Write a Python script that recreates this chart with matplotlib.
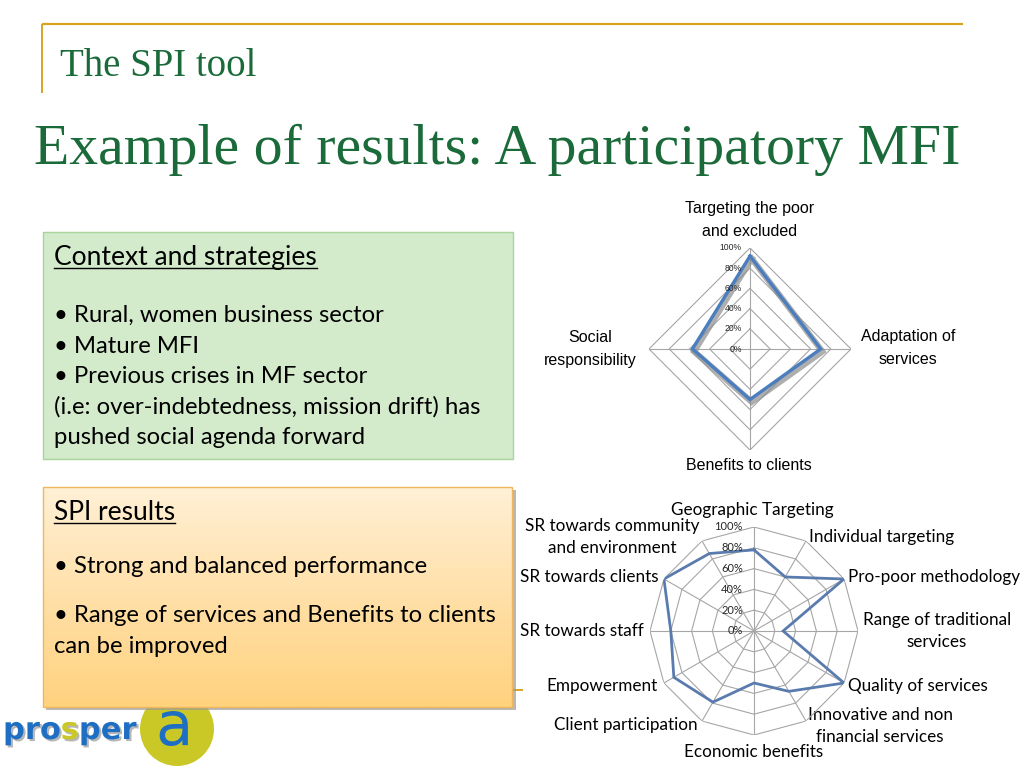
import numpy as np
import matplotlib
matplotlib.use('Agg')
import matplotlib.pyplot as plt
from matplotlib.patches import Rectangle, Circle
from matplotlib.colors import LinearSegmentedColormap
import matplotlib.patheffects as pe

# ---------------- data ----------------
dims1 = ["Targeting the poor\nand excluded", "Adaptation of\nservices",
         "Benefits to clients", "Social\nresponsibility"]
vals1 = [92, 70, 50, 57]

dims2 = ["Geographic Targeting", "Individual targeting", "Pro-poor methodology",
         "Range of traditional\nservices", "Quality of services",
         "Innovative and non\nfinancial services", "Economic benefits",
         "Client participation", "Empowerment", "SR towards staff",
         "SR towards clients", "SR towards community\nand environment"]
vals2 = [78, 60, 100, 28, 100, 67, 50, 79, 89, 80, 100, 86]

ticks = [0, 20, 40, 60, 80, 100]
tick_labels = ["0%", "20%", "40%", "60%", "80%", "100%"]

context_title = "Context and strategies"
context_lines = ["\u2022 Rural, women business sector", "\u2022 Mature MFI",
                 "\u2022 Previous crises in MF sector",
                 "(i.e: over-indebtedness, mission drift) has",
                 "pushed social agenda forward"]
results_title = "SPI results"
results_lines = ["\u2022 Strong and balanced performance",
                 "\u2022 Range of services and Benefits to clients",
                 "can be improved"]

# ---------------- layout (pixel anchors) ----------------
lab1_pos = [(750, 209, 'center'), (908, 337, 'center'), (749, 465, 'center'), (590, 337, 'center')]
lab2_pos = [(752, 510, 'center'), (809, 537, 'left'), (848, 577, 'left'), (937, 620, 'center'),
            (848, 686, 'left'), (880, 715, 'center'), (754, 752, 'center'), (698, 725, 'right'),
            (658, 686, 'right'), (644, 631, 'right'), (658, 577, 'right'), (612, 526, 'center')]
context_y = [322, 353, 383, 414, 444]
results_y = [573, 622, 653]

GREEN = '#1B6B3A'
GOLD = '#D6A51F'
BODY = 'Lato'

W, H = 1024, 768
fig = plt.figure(figsize=(W / 100, H / 100), dpi=100)
fig.patch.set_facecolor('white')
bg = fig.add_axes([0, 0, 1, 1])
bg.set_xlim(0, W)
bg.set_ylim(H, 0)
bg.axis('off')

# header lines
bg.plot([42, 963], [24, 24], color=GOLD, lw=1.6, solid_capstyle='butt')
bg.plot([42, 42], [24, 93], color=GOLD, lw=1.4, solid_capstyle='butt')
bg.text(60, 76, "The SPI tool", family='Liberation Serif', fontsize=28, color=GREEN, va='baseline')
bg.text(34, 164, "Example of results: A participatory MFI", family='Liberation Serif',
        fontsize=41.6, color=GREEN, va='baseline')

# logo circle (behind box)
bg.add_patch(Circle((177, 729), 37, fc='#C9C826', ec='none', zorder=1))

# green box
bg.add_patch(Rectangle((43, 232), 470, 227, fc='#D3EACB', ec='#A9D49A', lw=1, zorder=2))

# orange box with shadow and gradient
bg.plot([512, 522], [690, 690], color=GOLD, lw=1.4, zorder=1)
bg.add_patch(Rectangle((46, 490), 470, 220, fc='#9A9A9A', ec='none', alpha=0.7, zorder=2))
cmap = LinearSegmentedColormap.from_list('og', ['#FFF0D6', '#FFE0A8', '#FFD27E'])
grad = np.linspace(0, 1, 200).reshape(-1, 1)
bg.imshow(grad, cmap=cmap, extent=(43, 512, 707, 487), aspect='auto', zorder=3, interpolation='bilinear')
bg.add_patch(Rectangle((43, 487), 469, 220, fc='none', ec='#F0B65C', lw=1, zorder=4))

renderer = fig.canvas.get_renderer()


def underline_text(x, y, s, size):
    t = bg.text(x, y, s, family=BODY, fontsize=size, color='black', va='baseline', zorder=5)
    bb = t.get_window_extent(renderer)
    bg.plot([bb.x0, bb.x1], [y + 3, y + 3], color='black', lw=1.0, zorder=5)


underline_text(54, 265, context_title, 19)
for s, y in zip(context_lines, context_y):
    bg.text(54, y, s, family=BODY, fontsize=17.2, color='black', va='baseline', zorder=5)

underline_text(54, 520, results_title, 19)
for s, y in zip(results_lines, results_y):
    bg.text(54, y, s, family=BODY, fontsize=17.2, color='black', va='baseline', zorder=5)

# logo text
shadow = [pe.SimplePatchShadow(offset=(1.5, -1.5), shadow_rgbFace='#888888', alpha=0.6), pe.Normal()]
x = 3
for part, col in [("pro", '#1E6FC3'), ("s", '#C9C826'), ("per", '#1E6FC3')]:
    t = bg.text(x, 739, part, family='DejaVu Sans', fontweight='bold', fontsize=22,
                color=col, va='baseline', zorder=6, path_effects=shadow)
    bb = t.get_window_extent(renderer)
    x = bb.x1
bg.text(174, 728, "a", family='DejaVu Sans', fontsize=44, color='#1E6FC3',
        ha='center', va='center', zorder=6)

bg.set_xlim(0, W)
bg.set_ylim(H, 0)


def px_rect(cx, cy, r):
    return [(cx - r) / W, (H - cy - r) / H, 2 * r / W, 2 * r / H]


def radar(rect, values, line_color, lw, grid_color, tick_off, tick_family, tick_size, shadow_fx):
    ax = fig.add_axes(rect, projection='polar')
    ax.set_theta_zero_location('N')
    ax.set_theta_direction(-1)
    n = len(values)
    theta = np.linspace(0, 2 * np.pi, n, endpoint=False)
    tc = np.append(theta, theta[0])
    for lv in ticks[1:]:
        ax.plot(tc, [lv] * (n + 1), color=grid_color, lw=0.8, zorder=1)
    for t in theta:
        ax.plot([t, t], [0, ticks[-1]], color=grid_color, lw=0.8, zorder=1)
    v = np.append(values, values[0])
    kw = {}
    if shadow_fx:
        kw['path_effects'] = [pe.SimpleLineShadow(offset=(1.2, -1.8), shadow_color='#8C8C8C',
                                                  alpha=0.7, linewidth=lw + 2), pe.Normal()]
    ax.plot(tc, v, color=line_color, lw=lw, zorder=3, solid_joinstyle='miter', **kw)
    for lv, lab in zip(ticks, tick_labels):
        ax.annotate(lab, xy=(0, lv), xytext=(tick_off, 0), textcoords='offset points',
                    ha='right', va='center', family=tick_family, fontsize=tick_size,
                    color='#262626', zorder=4)
    ax.set_ylim(0, ticks[-1])
    ax.set_xticks([])
    ax.set_yticks([])
    ax.grid(False)
    ax.spines['polar'].set_visible(False)
    ax.patch.set_alpha(0)
    return ax


radar(px_rect(750, 349, 101), vals1, '#4A7EBF', 2.4, '#A6A6A6', -6, 'Liberation Sans', 6.2, True)
radar(px_rect(754, 631, 104), vals2, '#5A7BAE', 2.0, '#A6A6A6', -8, BODY, 8, False)

for lab, (x, y, ha) in zip(dims1, lab1_pos):
    for i, line in enumerate(lab.split('\n')):
        bg.text(x, y + 23 * i, line, family='Liberation Sans', fontsize=11.5, color='black',
                ha=ha, va='center')

for lab, (x, y, ha) in zip(dims2, lab2_pos):
    for i, line in enumerate(lab.split('\n')):
        bg.text(x, y + 22 * i, line, family=BODY, fontsize=12.3, color='black',
                ha=ha, va='center')

fig.savefig('out.png', dpi=100)
